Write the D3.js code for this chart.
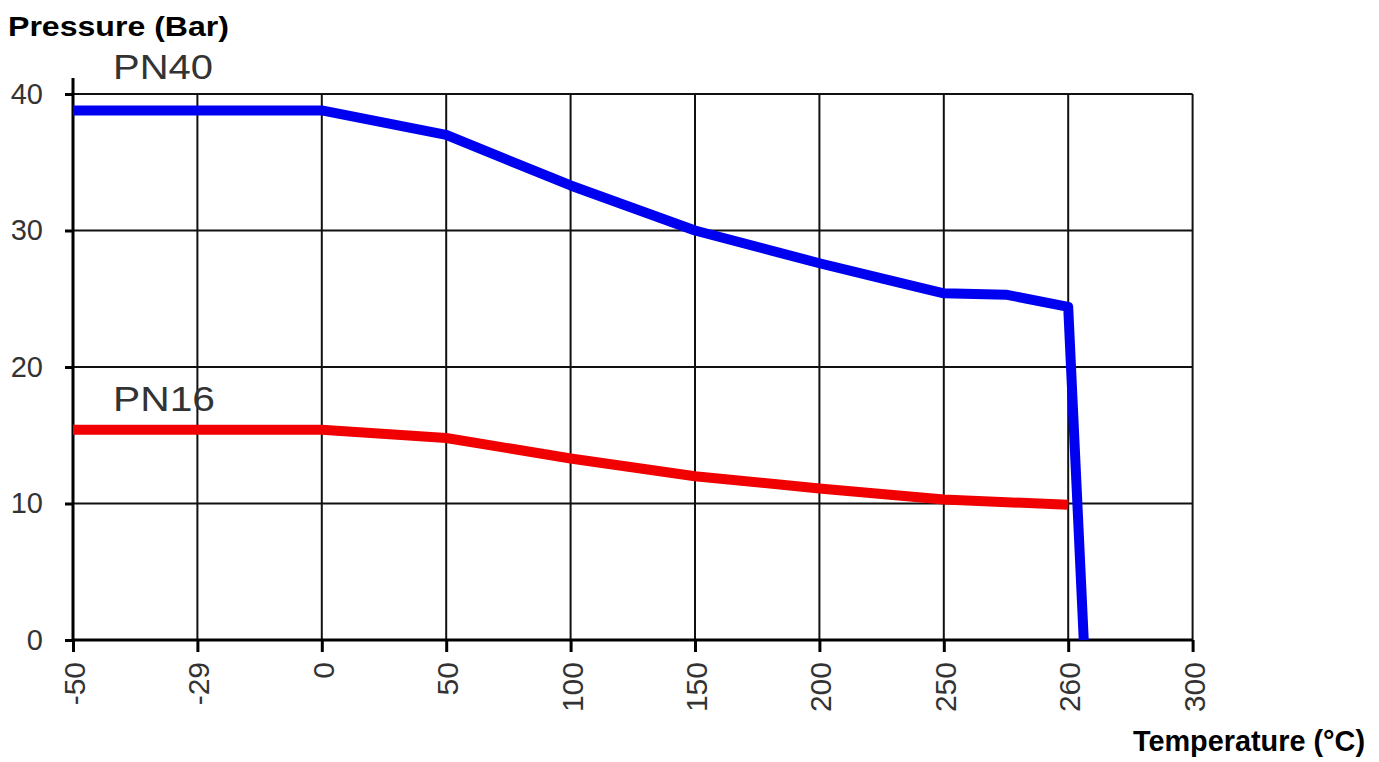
<!DOCTYPE html>
<html>
<head>
<meta charset="utf-8">
<script src="https://cdn.jsdelivr.net/npm/d3@7"></script>
<style>
  body { margin: 0; background: #fff; }
  text { font-family: Arial, "Liberation Sans", sans-serif; }
</style>
</head>
<body>
<div id="canvas"></div>
<script>
"use strict"

/* Data */
let tempTicks = [-50, -29, 0, 50, 100, 150, 200, 250, 260, 300];
let pressureTicks = [0, 10, 20, 30, 40];

let pn40Temp = [-50, 0, 50, 100, 150, 200, 225, 250, 255, 260, 265];
let pn40Bar = [38.8, 38.8, 37.0, 33.3, 30.0, 27.6, 26.5, 25.4, 25.3, 24.4, 0];

let pn16Temp = [-50, 0, 50, 100, 150, 200, 250, 260];
let pn16Bar = [15.4, 15.4, 14.8, 13.3, 12.0, 11.1, 10.3, 9.9];

/* Drawing configuration */
let svgWidth = 1379;
let svgHeight = 762;
let plotLeft = 73;
let step = 124.4;
let plotTop = 94;
let plotBottom = 640;

let svg = d3.select("#canvas")
    .append("svg")
    .attr("width", svgWidth)
    .attr("height", svgHeight);

/* Ticks are equally spaced, so the temperature scale is piecewise linear */
let x = d3.scaleLinear()
    .domain(tempTicks)
    .range(tempTicks.map(function (d, i) { return plotLeft + i * step; }));

let y = d3.scaleLinear()
    .domain([0, 40])
    .range([plotBottom, plotTop]);

let plotRight = x(300);

/* Grid */
svg.append("g")
    .selectAll("line")
    .data(tempTicks)
    .join("line")
    .attr("x1", function (d) { return x(d); })
    .attr("x2", function (d) { return x(d); })
    .attr("y1", plotTop)
    .attr("y2", plotBottom)
    .attr("stroke", "#111")
    .attr("stroke-width", 2);

svg.append("g")
    .selectAll("line")
    .data(pressureTicks)
    .join("line")
    .attr("x1", plotLeft)
    .attr("x2", plotRight)
    .attr("y1", function (d) { return y(d); })
    .attr("y2", function (d) { return y(d); })
    .attr("stroke", "#111")
    .attr("stroke-width", 2);

/* Axes */
let yAxis = svg.append("g")
    .attr("transform", "translate(" + plotLeft + ",0)")
    .call(d3.axisLeft(y).tickValues(pressureTicks).tickSize(8));

let xAxis = svg.append("g")
    .attr("transform", "translate(0," + plotBottom + ")")
    .call(d3.axisBottom(x).tickValues(tempTicks).tickSize(12)
        .tickFormat(function (d) { return String(d); }));

yAxis.select(".domain").remove();
xAxis.select(".domain").remove();

svg.append("line")
    .attr("x1", plotLeft).attr("x2", plotLeft)
    .attr("y1", plotTop - 16).attr("y2", plotBottom)
    .attr("stroke", "#000").attr("stroke-width", 3);

svg.append("line")
    .attr("x1", plotLeft).attr("x2", plotRight)
    .attr("y1", plotBottom).attr("y2", plotBottom)
    .attr("stroke", "#000").attr("stroke-width", 3);

yAxis.selectAll(".tick line").attr("stroke", "#000").attr("stroke-width", 3);
xAxis.selectAll(".tick line").attr("stroke", "#000").attr("stroke-width", 3);

yAxis.selectAll(".tick text")
    .attr("font-size", 29)
    .attr("fill", "#333")
    .attr("font-family", "Arial, 'Liberation Sans', sans-serif")
    .attr("text-anchor", "end")
    .attr("x", -30);

xAxis.selectAll(".tick text")
    .attr("font-size", 30)
    .attr("fill", "#333")
    .attr("font-family", "Arial, 'Liberation Sans', sans-serif")
    .attr("transform", "rotate(-90)")
    .attr("text-anchor", "end")
    .attr("x", -22)
    .attr("y", 0)
    .attr("dy", "0.38em");

/* Series lines */
let line = d3.line()
    .x(function (d) { return x(d[0]); })
    .y(function (d) { return y(d[1]); });

svg.append("path")
    .datum(d3.zip(pn16Temp, pn16Bar))
    .attr("d", line)
    .attr("fill", "none")
    .attr("stroke", "#f00000")
    .attr("stroke-width", 10)
    .attr("stroke-linejoin", "round");

svg.append("path")
    .datum(d3.zip(pn40Temp, pn40Bar))
    .attr("d", line)
    .attr("fill", "none")
    .attr("stroke", "#0000f0")
    .attr("stroke-width", 10)
    .attr("stroke-linejoin", "round");

/* Series labels */
svg.append("text")
    .attr("x", 113)
    .attr("y", 79)
    .attr("font-size", 35)
    .attr("textLength", 100)
    .attr("lengthAdjust", "spacingAndGlyphs")
    .attr("fill", "#333")
    .text("PN40");

svg.append("text")
    .attr("x", 113)
    .attr("y", 411)
    .attr("font-size", 35)
    .attr("textLength", 102)
    .attr("lengthAdjust", "spacingAndGlyphs")
    .attr("fill", "#333")
    .text("PN16");

/* Axis titles */
svg.append("text")
    .attr("x", 8)
    .attr("y", 36)
    .attr("font-size", 28)
    .attr("textLength", 221)
    .attr("lengthAdjust", "spacingAndGlyphs")
    .attr("font-weight", "bold")
    .attr("fill", "#000")
    .text("Pressure (Bar)");

svg.append("text")
    .attr("x", 1133)
    .attr("y", 751)
    .attr("font-size", 29)
    .attr("textLength", 232)
    .attr("lengthAdjust", "spacingAndGlyphs")
    .attr("font-weight", "bold")
    .attr("fill", "#000")
    .text("Temperature (°C)");
</script>
</body>
</html>
